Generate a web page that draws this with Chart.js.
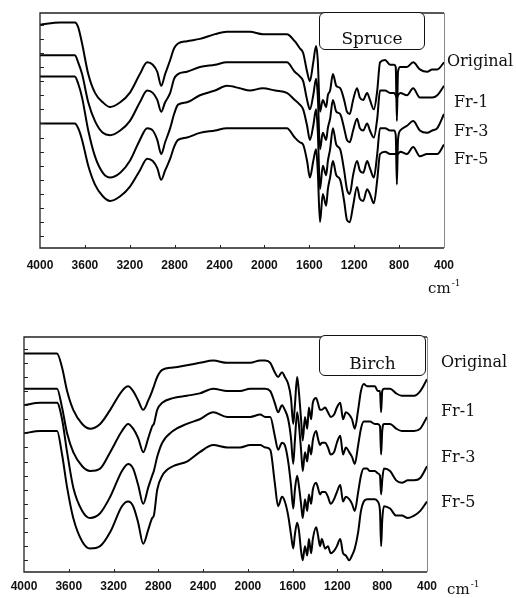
<!DOCTYPE html>
<html>
<head>
<meta charset="utf-8">
<script src="https://cdn.jsdelivr.net/npm/chart.js@4.4.0/dist/chart.umd.min.js"></script>
<style>
  body { margin: 0; background: #fff; width: 516px; height: 598px; position: relative; overflow: hidden; }
  canvas { position: absolute; left: 0; }
  #spruceChart { top: 0; }
  #birchChart { top: 300px; }
  .lbl { position: absolute; font-family: "DejaVu Serif", serif; font-size: 16px; line-height: 16px; color: #111; white-space: nowrap; }
  .box { position: absolute; box-sizing: border-box; border: 1.5px solid #111; border-radius: 6px; background: #fff;
         font-family: "DejaVu Serif", serif; font-size: 17px; line-height: 17px; text-align: center; color: #111; }
  .unit { position: absolute; font-family: "DejaVu Serif", serif; font-size: 15px; line-height: 15px; color: #111; white-space: nowrap; }
  .unit span { position: relative; top: -7px; font-size: 9px; margin-left: 1px; }
</style>
</head>
<body>
<canvas id="spruceChart" width="516" height="300"></canvas>
<canvas id="birchChart" width="516" height="298"></canvas>

<div class="box" style="left:319px; top:12px; width:106px; height:38px; padding-top:17px;">Spruce</div>
<div class="lbl" style="left:447px; top:53px;">Original</div>
<div class="lbl" style="left:454px; top:94px;">Fr-1</div>
<div class="lbl" style="left:454px; top:123px;">Fr-3</div>
<div class="lbl" style="left:454px; top:151px;">Fr-5</div>
<div class="unit" style="left:428px; top:281px;">cm<span>-1</span></div>

<div class="box" style="left:319px; top:335px; width:107px; height:41px; padding-top:19px;">Birch</div>
<div class="lbl" style="left:441px; top:354px;">Original</div>
<div class="lbl" style="left:441px; top:403px;">Fr-1</div>
<div class="lbl" style="left:441px; top:449px;">Fr-3</div>
<div class="lbl" style="left:441px; top:494px;">Fr-5</div>
<div class="unit" style="left:447px; top:582px;">cm<span>-1</span></div>

<script>
// wavenumber tick labels (cm-1)
const wnTicks = [4000, 3600, 3200, 2800, 2400, 2000, 1600, 1200, 800, 400];
const seriesNames = ["Original", "Fr-1", "Fr-3", "Fr-5"];

// Spruce lignin fractions, transmittance (a.u., offset)
const spruceWn = [4000, 3820, 3690, 3660, 3625, 3570, 3510, 3440, 3375, 3285, 3200, 3110, 3045, 2995, 2955, 2920, 2885, 2840, 2805, 2770,
  2690, 2575, 2440, 2335, 2220, 2130, 2015, 1905, 1800, 1730, 1685, 1655, 1620, 1595, 1565, 1540, 1525, 1505, 1480, 1450,
  1435, 1415, 1390, 1360, 1325, 1290, 1265, 1240, 1210, 1175, 1150, 1120, 1085, 1060, 1025, 995, 970, 925, 880, 845,
  830, 820, 810, 790, 730, 675, 615, 550, 505, 460, 400];
const spruceOriginal = [95, 96, 96, 94, 87, 74, 66, 62, 60, 62, 66, 74, 79, 78, 75, 69, 74, 80, 85, 87,
  88, 89, 91, 92, 92, 92, 91, 91, 91, 88, 85, 83, 75, 71, 79, 86, 80, 58, 63, 60,
  65, 67, 74, 69, 68, 63, 58, 57, 63, 68, 64, 63, 66, 63, 59, 67, 79, 80, 78, 78,
  77, 54, 75, 77, 77, 79, 76, 75, 76, 76, 79];
const spruceFr1 = [82, 82, 82, 79, 74, 62, 54, 49, 48, 50, 54, 62, 67, 66, 63, 58, 62, 66, 72, 74,
  75, 77, 78, 79, 79, 79, 79, 79, 79, 75, 73, 71, 63, 59, 65, 72, 65, 42, 49, 46,
  51, 55, 63, 58, 57, 51, 46, 45, 50, 55, 51, 50, 53, 50, 47, 55, 67, 67, 66, 66,
  65, 64, 65, 66, 65, 68, 64, 64, 64, 65, 69];
const spruceFr3 = [73, 73, 73, 70, 64, 50, 39, 32, 30, 32, 37, 46, 51, 50, 46, 40, 45, 51, 57, 61,
  62, 65, 67, 69, 68, 67, 68, 67, 66, 63, 61, 59, 52, 46, 52, 59, 50, 25, 35, 31,
  37, 42, 51, 44, 42, 33, 25, 23, 31, 37, 33, 32, 37, 34, 30, 40, 51, 51, 50, 50,
  48, 27, 46, 50, 52, 54, 50, 49, 50, 51, 57];
const spruceFr5 = [53, 53, 53, 51, 46, 35, 27, 22, 20, 22, 26, 33, 38, 37, 34, 29, 33, 38, 43, 46,
  47, 49, 50, 51, 51, 51, 51, 51, 51, 47, 45, 44, 37, 30, 37, 42, 33, 11, 23, 18,
  25, 30, 37, 31, 29, 20, 12, 11, 18, 26, 21, 20, 25, 23, 19, 29, 40, 41, 40, 40,
  40, 40, 40, 41, 40, 43, 39, 40, 40, 40, 44];

// Birch lignin fractions
const birchWn = [4000, 3855, 3705, 3660, 3615, 3560, 3480, 3410, 3320, 3230, 3125, 3070, 3025, 2980, 2935, 2890, 2855, 2840, 2810, 2765,
  2670, 2545, 2430, 2310, 2185, 2070, 1980, 1890, 1845, 1800, 1760, 1730, 1695, 1670, 1640, 1615, 1595, 1580, 1560, 1545,
  1525, 1510, 1490, 1470, 1455, 1435, 1420, 1390, 1375, 1355, 1340, 1310, 1285, 1260, 1230, 1205, 1175, 1150, 1125, 1095,
  1070, 1045, 1015, 990, 965, 935, 910, 865, 840, 820, 810, 800, 785, 730, 675, 625, 570, 515, 460, 400];
const birchOriginal = [93, 93, 93, 87, 77, 69, 63, 61, 63, 69, 77, 79, 77, 73, 69, 73, 77, 79, 83, 86,
  87, 88, 89, 90, 89, 89, 89, 90, 90, 89, 85, 83, 85, 83, 80, 74, 63, 71, 83, 77,
  65, 56, 66, 61, 70, 65, 72, 74, 72, 69, 69, 70, 68, 66, 67, 70, 72, 65, 68, 67,
  65, 61, 69, 77, 80, 79, 79, 79, 77, 77, 68, 77, 78, 78, 76, 75, 75, 75, 77, 82];
const birchFr1 = [78, 78, 78, 70, 59, 51, 45, 43, 44, 51, 60, 63, 61, 57, 51, 57, 62, 63, 69, 72,
  74, 75, 76, 78, 77, 77, 78, 78, 78, 77, 72, 68, 71, 69, 65, 57, 46, 56, 68, 63,
  52, 43, 51, 47, 54, 50, 56, 60, 57, 54, 55, 55, 53, 50, 51, 55, 58, 50, 53, 51,
  49, 46, 54, 61, 64, 64, 64, 63, 63, 62, 50, 60, 63, 63, 61, 60, 60, 60, 61, 66];
const birchFr3 = [71, 72, 72, 65, 51, 36, 26, 23, 25, 32, 43, 46, 44, 37, 29, 36, 41, 43, 49, 55,
  60, 63, 65, 68, 66, 66, 66, 67, 66, 66, 58, 52, 55, 54, 47, 37, 27, 35, 41, 37,
  29, 23, 31, 26, 33, 29, 35, 38, 36, 33, 34, 34, 32, 29, 31, 34, 37, 30, 32, 31,
  29, 26, 34, 41, 44, 44, 43, 43, 42, 41, 33, 39, 44, 43, 39, 38, 39, 39, 40, 45];
const birchFr5 = [59, 60, 60, 50, 36, 23, 13, 10, 11, 17, 28, 30, 28, 21, 12, 18, 23, 24, 35, 41,
  45, 47, 51, 54, 53, 53, 54, 54, 53, 52, 38, 28, 32, 30, 24, 16, 10, 16, 21, 18,
  9, 5, 11, 7, 14, 8, 14, 19, 16, 11, 14, 10, 11, 8, 9, 11, 14, 8, 7, 5,
  7, 10, 17, 26, 30, 31, 31, 31, 30, 26, 11, 22, 28, 27, 24, 24, 23, 24, 26, 30];

// frame with small inward ticks, like the plotter output
const frame = {
  id: "frame",
  afterDatasetsDraw(chart) {
    const { ctx, chartArea: a, scales: { x, y } } = chart;
    ctx.save();
    ctx.strokeStyle = "#222";
    ctx.lineWidth = 1.3;
    ctx.beginPath();
    ctx.moveTo(a.right, a.top);
    ctx.lineTo(a.left, a.top);
    ctx.lineTo(a.left, a.bottom);
    ctx.lineTo(a.right, a.bottom);
    ctx.stroke();
    ctx.strokeStyle = "#888";
    ctx.lineWidth = 1;
    ctx.beginPath();
    ctx.moveTo(a.right + 0.5, a.top);
    ctx.lineTo(a.right + 0.5, a.bottom);
    ctx.stroke();
    ctx.strokeStyle = "#222";
    ctx.beginPath();
    for (let v = 5; v < 100; v += 6) {
      const py = Math.round(y.getPixelForValue(v)) + 0.5;
      ctx.moveTo(a.left, py);
      ctx.lineTo(a.left + 4, py);
    }
    wnTicks.slice(1, -1).forEach(w => {
      const px = Math.round(x.getPixelForValue(w)) + 0.5;
      ctx.moveTo(px, a.bottom);
      ctx.lineTo(px, a.bottom - 3);
    });
    ctx.stroke();
    ctx.restore();
  }
};

function makeChart(id, wn, series, pad, axisHeight, tickPad) {
  const ctx = document.getElementById(id).getContext("2d");
  return new Chart(ctx, {
    type: "line",
    data: {
      datasets: series.map((vals, i) => ({
        label: seriesNames[i],
        data: wn.map((w, j) => ({ x: w, y: vals[j] })),
        borderColor: "#000",
        borderWidth: 2,
        pointRadius: 0,
        fill: false,
        cubicInterpolationMode: "monotone"
      }))
    },
    options: {
      responsive: false,
      devicePixelRatio: 1,
      animation: false,
      layout: { padding: pad },
      plugins: { legend: { display: false }, tooltip: { enabled: false } },
      scales: {
        x: {
          type: "linear",
          reverse: true,
          min: 400,
          max: 4000,
          afterBuildTicks: scale => { scale.ticks = wnTicks.map(v => ({ value: v })); },
          afterFit: scale => { scale.height = axisHeight; },
          grid: { display: false, drawTicks: false },
          border: { display: false },
          ticks: {
            padding: tickPad,
            maxRotation: 0,
            autoSkip: false,
            color: "#111",
            font: { family: "Liberation Sans", size: 12, weight: "bold" },
            callback: v => String(v)
          }
        },
        y: { display: false, min: 0, max: 100 }
      }
    },
    plugins: [frame]
  });
}

makeChart("spruceChart", spruceWn, [spruceOriginal, spruceFr1, spruceFr3, spruceFr5],
  { left: 40, top: 13, right: 72, bottom: 22 }, 30, 10);
makeChart("birchChart", birchWn, [birchOriginal, birchFr1, birchFr3, birchFr5],
  { left: 24, top: 37, right: 89, bottom: 4 }, 22, 7);
</script>
</body>
</html>
